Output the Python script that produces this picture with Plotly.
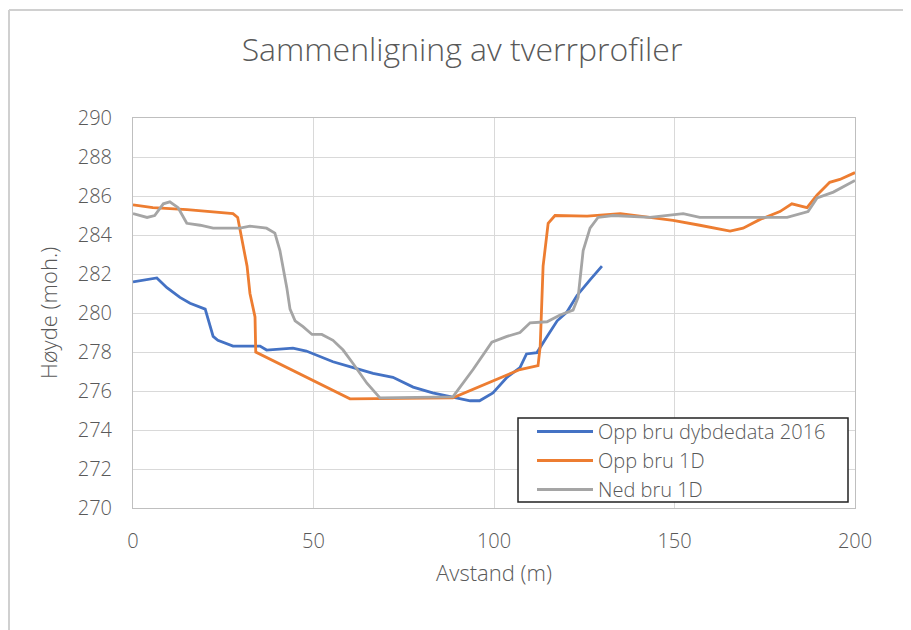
import plotly.graph_objects as go

# Opp bru dybdedata 2016
blue_x = [0, 6.6, 9.4, 13, 15.8, 20, 22.2, 23.5, 27.7, 35.2, 37, 44.3, 48, 55.4, 61, 66.5, 72, 77.6, 83, 90.6,
          93.4, 96, 99.7, 103.6, 107.2, 109, 111.9, 114.7, 117.5, 120.2, 123, 126.6, 129.9]
blue_y = [281.6, 281.8, 281.3, 280.8, 280.5, 280.2, 278.8, 278.6, 278.3, 278.3, 278.1, 278.2, 278.05, 277.5, 277.2,
          276.9, 276.7, 276.2, 275.9, 275.6, 275.5, 275.5, 275.9, 276.7, 277.2, 277.9, 277.97, 278.8, 279.6, 280.05,
          280.9, 281.7, 282.4]

# Opp bru 1D
orange_x = [0, 5.5, 15, 27.7, 29, 31.6, 32.4, 33.8, 34, 60.1, 88.6, 107.2, 112.2, 112.8, 113.6, 115, 116.9, 125.8,
            135, 149.6, 157, 165.4, 169, 173.7, 179.2, 182.5, 186.7, 189.5, 193, 195.8, 200]
orange_y = [285.55, 285.4, 285.3, 285.1, 284.9, 282.4, 281.0, 279.8, 278.0, 275.6, 275.65, 277.1, 277.3, 278.3, 282.4,
            284.6, 285.0, 284.97, 285.1, 284.75, 284.5, 284.2, 284.35, 284.8, 285.2, 285.6, 285.4, 286.05, 286.7,
            286.85, 287.2]

# Ned bru 1D
gray_x = [0, 3.9, 6, 8.4, 10.2, 12.5, 14.9, 18.6, 22.2, 29.6, 32.4, 37, 39.3, 40.7, 42.6, 43.5, 44.9, 47.1, 49.6,
          52.3, 55.4, 58.2, 61, 64.8, 68.4, 88.6, 94.2, 99.4, 103.6, 107.2, 110, 114.7, 118.3, 121.9, 123.3, 124.7,
          126.6, 128.8, 133, 143.2, 152.4, 157, 166.2, 173.7, 181.2, 187, 189.5, 194, 200]
gray_y = [285.1, 284.9, 285.0, 285.6, 285.7, 285.4, 284.6, 284.5, 284.35, 284.35, 284.45, 284.35, 284.1, 283.2,
          281.3, 280.2, 279.6, 279.3, 278.9, 278.9, 278.6, 278.1, 277.4, 276.4, 275.65, 275.7, 277.1, 278.5, 278.8,
          279.0, 279.5, 279.55, 279.9, 280.15, 280.8, 283.2, 284.35, 284.9, 285.0, 284.9, 285.1, 284.9, 284.9,
          284.9, 284.9, 285.2, 285.9, 286.2, 286.8]

series_names = ["Opp bru dybdedata 2016", "Opp bru 1D", "Ned bru 1D"]
colors = ["#4472C4", "#ED7D31", "#A5A5A5"]

x_ticks = [0, 50, 100, 150, 200]
y_ticks = [270, 272, 274, 276, 278, 280, 282, 284, 286, 288, 290]

FONT = "'Open Sans', Lato, sans-serif"
TXT = "#595959"

fig = go.Figure()
for i, (xs, ys) in enumerate([(blue_x, blue_y), (orange_x, orange_y), (gray_x, gray_y)]):
    fig.add_trace(go.Scatter(x=xs, y=ys, mode="lines", name=series_names[i],
                             legendgroup=f"g{i}",
                             line=dict(color=colors[i], width=2.8)))

OFF = 8  # page body margin
W, H = 911 - OFF, 630 - OFF
# screen-pixel plot area
L, R, T, B = 133, 855, 118, 508
pw, ph = R - L, B - T

def px(xs):
    return (xs - L) / pw

def py(ys):
    return (B - ys) / ph

fig.update_layout(
    width=W, height=H,
    margin=dict(l=L - OFF, r=W - (R - OFF), t=T - OFF, b=H - (B - OFF)),
    paper_bgcolor="white", plot_bgcolor="white",
    font=dict(family=FONT, color=TXT, size=20),
    title=dict(text="Sammenligning av tverrprofiler", x=(462 - OFF) / W, xanchor="center",
               y=1 - (50 - OFF) / H, yanchor="middle",
               font=dict(family=FONT, size=32, color=TXT, weight=300)),
    xaxis=dict(range=[0, 200], tickvals=x_ticks, ticktext=[str(v) for v in x_ticks],
               showgrid=True, gridcolor="#D9D9D9", gridwidth=1,
               showline=True, linecolor="#BFBFBF", linewidth=1, mirror=True,
               zeroline=False, ticks="", ticklabelstandoff=15,
               tickfont=dict(size=20, color=TXT, weight=300),
               title=dict(text="Avstand (m)", standoff=12, font=dict(size=22, color=TXT, weight=300))),
    yaxis=dict(range=[270, 290], tickvals=y_ticks, ticktext=[str(v) for v in y_ticks],
               showgrid=True, gridcolor="#D9D9D9", gridwidth=1,
               showline=True, linecolor="#BFBFBF", linewidth=1, mirror=True,
               zeroline=False, ticks="", ticklabelstandoff=16,
               tickfont=dict(size=20, color=TXT, weight=300),
               title=dict(text="Høyde (moh.)", standoff=14, font=dict(size=22, color=TXT, weight=300))),
    legend=dict(x=px(532), y=py(412), xanchor="left", yanchor="top",
                bgcolor="rgba(0,0,0,0)", borderwidth=0,
                font=dict(size=20, color=TXT, weight=300), tracegroupgap=0,
                traceorder="grouped", itemwidth=56),
    showlegend=True,
)

# legend frame
fig.add_shape(type="rect", xref="paper", yref="paper", x0=px(518), x1=px(848), y0=py(502), y1=py(418),
              line=dict(color="#222222", width=1.5), fillcolor="white", layer="above")

# outer chart border (left and top)
bc = "#D0D0D0"
fig.add_shape(type="line", xref="paper", yref="paper", x0=px(9), x1=px(9), y0=py(640), y1=py(10),
              line=dict(color=bc, width=2))
fig.add_shape(type="line", xref="paper", yref="paper", x0=px(9), x1=px(920), y0=py(10), y1=py(10),
              line=dict(color=bc, width=2))

fig.write_html("out.html")
